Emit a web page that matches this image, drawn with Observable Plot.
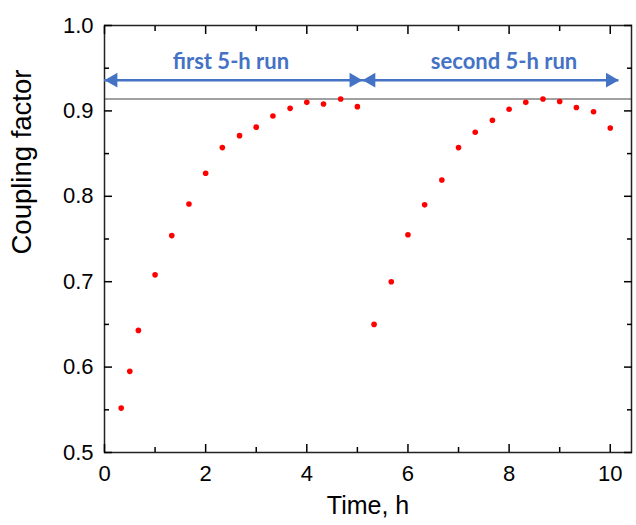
<!DOCTYPE html>
<html><head><meta charset="utf-8">
<script src="https://cdn.jsdelivr.net/npm/d3@7"></script>
<script src="https://cdn.jsdelivr.net/npm/@observablehq/plot@0.6"></script>
<style>
body{margin:0;background:#fff}
#chart svg{display:block}
</style>
</head><body><div id="chart"></div>
<script>
const firstRunTime = [0.33,0.5,0.67,1,1.33,1.67,2,2.33,2.67,3,3.33,3.67,4,4.33,4.67,5];
const firstRunCoupling = [0.552,0.595,0.643,0.708,0.754,0.791,0.827,0.857,0.871,0.881,0.894,0.903,0.910,0.908,0.914,0.905];
const secondRunTime = [5.33,5.67,6,6.33,6.67,7,7.33,7.67,8,8.33,8.67,9,9.33,9.67,10];
const secondRunCoupling = [0.650,0.700,0.755,0.790,0.819,0.857,0.875,0.889,0.902,0.910,0.914,0.911,0.904,0.899,0.880];
const runLabels = ["first 5-h run", "second 5-h run"];
const runStart = [0, 5.1];
const runEnd = [5.1, 10.17];
const runLabelX = [2.5, 7.9];
const arrowLevel = 0.936;
const labelLevel = 0.957;
const referenceLevel = 0.914;
const xMajorTicks = [0,2,4,6,8,10];
const xMinorTicks = [1,3,5,7,9];
const yMajorTicks = [0.5,0.6,0.7,0.8,0.9,1.0];
const yMinorTicks = [0.55,0.65,0.75,0.85,0.95];
const xLabel = "Time, h";
const yLabel = "Coupling factor";

const points = [
  ...firstRunTime.map((t,i)=>({t, k:firstRunCoupling[i]})),
  ...secondRunTime.map((t,i)=>({t, k:secondRunCoupling[i]}))
];
const runs = runLabels.map((label,i)=>({label, start:runStart[i], end:runEnd[i], mid:runLabelX[i]}));

const blue = "#4472C4";
const font = "'Liberation Sans', Arial, sans-serif";

const chart = Plot.plot({
  width: 636, height: 525,
  marginLeft: 104, marginRight: 5, marginTop: 25, marginBottom: 73,
  style: {fontFamily: font, background: "#fff", color: "#000"},
  x: {domain: [0, 10.42]},
  y: {domain: [0.5, 1.0]},
  marks: [
    Plot.ruleY([referenceLevel], {stroke: "#808080", strokeWidth: 1.5}),
    Plot.frame({stroke: "#222", strokeWidth: 1.5}),
    Plot.axisX(xMajorTicks, {anchor: "bottom", tickSize: -8, tickPadding: 21, fontSize: 22, tickFormat: d3.format("d"), label: null, strokeWidth: 1.5}),
    Plot.axisX(xMinorTicks, {anchor: "bottom", tickSize: -5, text: null, label: null, strokeWidth: 1.5}),
    Plot.axisX(xMajorTicks, {anchor: "top", tickSize: -8, text: null, label: null, strokeWidth: 1.5}),
    Plot.axisX(xMinorTicks, {anchor: "top", tickSize: -5, text: null, label: null, strokeWidth: 1.5}),
    Plot.axisY(yMajorTicks, {anchor: "left", tickSize: -8, tickPadding: 19, fontSize: 22, tickFormat: d3.format(".1f"), label: null, strokeWidth: 1.5}),
    Plot.axisY(yMinorTicks, {anchor: "left", tickSize: -5, text: null, label: null, strokeWidth: 1.5}),
    Plot.axisY(yMajorTicks, {anchor: "right", tickSize: -8, text: null, label: null, strokeWidth: 1.5}),
    Plot.axisY(yMinorTicks, {anchor: "right", tickSize: -5, text: null, label: null, strokeWidth: 1.5}),
    Plot.text([xLabel], {frameAnchor: "bottom", dy: 61, text: d=>d, fontSize: 25, fill: "#000"}),
    Plot.text([yLabel], {frameAnchor: "left", dx: -82, dy: 15.5, rotate: -90, text: d=>d, fontSize: 27.5, fill: "#000"}),
    Plot.ruleY(runs, {y: () => arrowLevel, x1: "start", x2: "end", stroke: blue, strokeWidth: 2.5}),
    Plot.dot(runs, {x: "end", y: () => arrowLevel, symbol: "triangle", r: 5.5, rotate: 90, dx: -8.6, fill: blue, stroke: null}),
    Plot.dot(runs, {x: "start", y: () => arrowLevel, symbol: "triangle", r: 5.5, rotate: -90, dx: 8.6, fill: blue, stroke: null}),
    Plot.text(runs, {x: "mid", y: () => labelLevel, text: "label", fill: blue, fontSize: 22, fontWeight: "bold", fontFamily: "Lato, 'Open Sans', sans-serif"}),
    Plot.dot(points, {x: "t", y: "k", r: 2.8, fill: "#ff0000", stroke: null})
  ]
});
document.getElementById("chart").append(chart);
</script>
</body></html>
